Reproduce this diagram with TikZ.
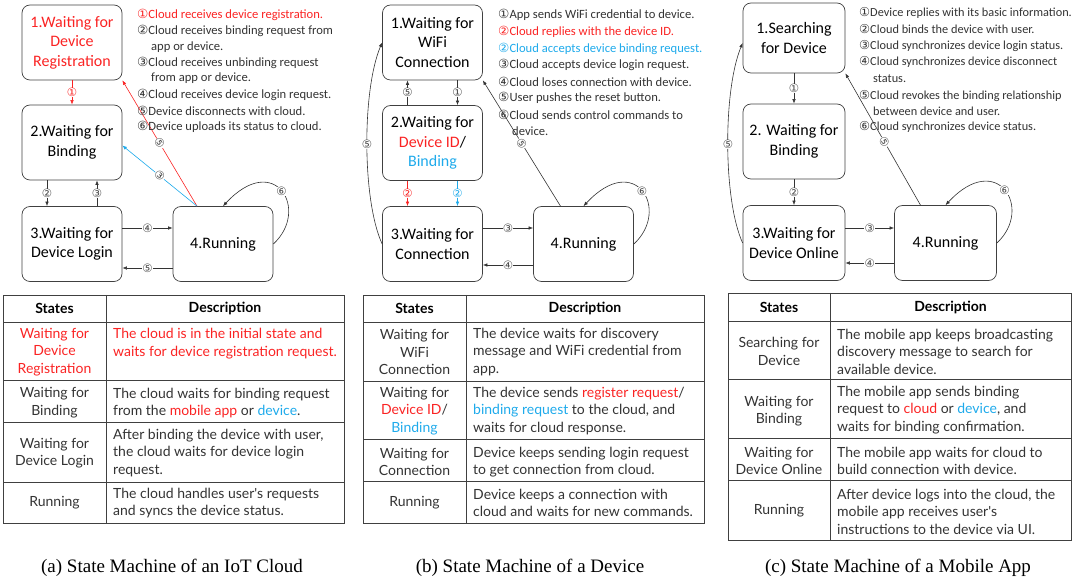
\documentclass[tikz,border=0pt]{standalone}
\usepackage{fontspec}
\setmainfont{Liberation Serif}
\newfontfamily\boxfont{Carlito}
\newfontfamily\tabfont{Lato}
\newfontfamily\symfont{DejaVu Sans}
\usepackage{tikz}
\usetikzlibrary{arrows.meta,calc}
\definecolor{redc}{RGB}{250,35,35}
\definecolor{bluec}{RGB}{30,170,235}
\newcommand{\cn}[1]{{\symfont\ifcase#1\or ①\or ②\or ③\or ④\or ⑤\or ⑥\fi}}

\begin{document}
\begin{tikzpicture}[x=1pt,y=-1pt,
  stbox/.style={draw=black!75, line width=0.7pt, rounded corners=8pt, minimum width=100pt, minimum height=75pt, align=center, font=\boxfont\fontsize{16}{19.5}\selectfont},
  arr/.style={draw=black!80, line width=0.6pt, -{Latex[length=4.5pt,width=3.5pt]}},
  lbl/.style={fill=white, inner sep=0.3pt, text=black!70, font=\symfont\fontsize{11.5}{11.5}\selectfont},
  leg/.style={anchor=west, inner sep=0pt, text=black!80, font=\boxfont\fontsize{12.6}{14}\selectfont},
  tline/.style={draw=black!75, line width=0.7pt},
  cell/.style={inner sep=0pt, align=center, text=black!80, font=\tabfont\fontsize{14}{17.5}\selectfont},
  desc/.style={cell, anchor=west, align=left},
  head/.style={cell, text=black, font=\tabfont\bfseries\fontsize{14}{17.5}\selectfont},
  captxt/.style={font=\fontsize{19}{22}\selectfont}]
\useasboundingbox (0,0) rectangle (1080,585);

% (a) IoT cloud
\node[stbox, text=redc] (a1) at (72,42.5) {1.Waiting for\\Device\\Registration};
\node[stbox] (a2) at (72,142.5) {2.Waiting for\\Binding};
\node[stbox] (a3) at (72,244) {3.Waiting for\\Device Login};
\node[stbox] (a4) at (223,244) {4.Running};

\draw[arr, draw=redc] (a1) -- node[lbl, text=redc]{①} (a2);
\draw[arr] ([xshift=-25pt]a2.south) -- node[lbl]{②} ([xshift=-25pt]a3.north);
\draw[arr] ([xshift=25pt]a3.north) -- node[lbl]{③} ([xshift=25pt]a2.south);
\draw[arr] ([yshift=16pt]a3.east) -- node[lbl]{④} ([yshift=16pt]a4.west);
\draw[arr] ([yshift=-24pt]a4.west) -- node[lbl]{⑤} ([yshift=-24pt]a3.east);
\draw[arr] (a4.east) .. controls +(37,-34) and +(52,-56) .. (a4.north) node[lbl, pos=0.5]{⑥};
\draw[arr, draw=redc] ([xshift=-26pt]a4.north) -- node[lbl, sloped]{⑤} (a1.south east);
\draw[arr, draw=bluec] ([xshift=-26pt]a4.north) -- node[lbl, sloped]{③} ([yshift=-3pt]a2.east);

\foreach \y/\t in {15/{\color{redc}\cn1Cloud receives device registration.},
  31/{\cn2Cloud receives binding request from}, 47/{\hspace*{14pt}app or device.},
  63/{\cn3Cloud receives unbinding request}, 78/{\hspace*{14pt}from app or device.},
  95/{\cn4Cloud receives device login request.}, 111/{\cn5Device disconnects with cloud.},
  127/{\cn6Device uploads its status to cloud.}}{
\node[leg] (la-\y) at (137,\y) {\t};}

% (b) device
\node[stbox] (b1) at (432.5,42.5) {1.Waiting for\\WiFi\\Connection};
\node[stbox] (b2) at (432.5,143) {2.Waiting for\\\textcolor{redc}{Device ID}/\\\textcolor{bluec}{Binding}};
\node[stbox] (b3) at (432.5,244) {3.Waiting for\\Connection};
\node[stbox] (b4) at (583.5,244) {4.Running};

\draw[arr] ([xshift=-25pt]b2.north) -- node[lbl]{⑤} ([xshift=-25pt]b1.south);
\draw[arr] ([xshift=25pt]b1.south) -- node[lbl]{①} ([xshift=25pt]b2.north);
\draw[arr, draw=redc] ([xshift=-25pt]b2.south) -- node[lbl, text=redc]{②} ([xshift=-25pt]b3.north);
\draw[arr, draw=bluec] ([xshift=25pt]b2.south) -- node[lbl, text=bluec]{②} ([xshift=25pt]b3.north);
\draw[arr] ([yshift=16pt]b3.east) -- node[lbl]{③} ([yshift=16pt]b4.west);
\draw[arr] ([yshift=-21pt]b4.west) -- node[lbl]{④} ([yshift=-21pt]b3.east);
\draw[arr] (b4.east) .. controls +(37,-34) and +(52,-56) .. (b4.north) node[lbl, pos=0.5]{⑥};
\draw[arr] ([xshift=-23pt]b4.north) -- node[lbl, sloped]{⑤} (b1.south east);
\draw[arr] (b3.west) .. controls (362,200) and (362,90) .. (b1.west) node[lbl, pos=0.5]{⑤};

\foreach \y/\t in {15/{\cn1App sends WiFi credential to device.},
  32/{\color{redc}\cn2Cloud replies with the device ID.},
  49/{\color{bluec}\cn2Cloud accepts device binding request.},
  65/{\cn3Cloud accepts device login request.}, 82/{\cn4Cloud loses connection with device.},
  98/{\cn5User pushes the reset button.}, 115/{\cn6Cloud sends control commands to},
  131/{\hspace*{14pt}device.}}{
\node[leg] (lb-\y) at (498,\y) {\t};}

% (c) mobile app
\node[stbox, minimum width=102pt, minimum height=70pt] (c1) at (794,38) {1.Searching\\for Device};
\node[stbox, minimum width=102pt] (c2) at (794,141.5) {2. Waiting for\\Binding};
\node[stbox, minimum width=102pt] (c3) at (794,243) {3.Waiting for\\Device Online};
\node[stbox, minimum width=102pt] (c4) at (945.5,243) {4.Running};

\draw[arr] (c1) -- node[lbl]{①} (c2);
\draw[arr] (c2) -- node[lbl]{②} (c3);
\draw[arr] ([yshift=15pt]c3.east) -- node[lbl]{③} ([yshift=15pt]c4.west);
\draw[arr] ([yshift=-20pt]c4.west) -- node[lbl]{④} ([yshift=-20pt]c3.east);
\draw[arr] (c4.east) .. controls +(37,-34) and +(52,-56) .. (c4.north) node[lbl, pos=0.5]{⑥};
\draw[arr] ([xshift=-25pt]c4.north) -- node[lbl, sloped, pos=0.48]{⑤} (c1.south east);
\draw[arr] (c3.west) .. controls (723,200) and (723,90) .. ([yshift=-5pt]c1.west) node[lbl, pos=0.5]{⑤};

\foreach \y/\t in {13/{\cn1Device replies with its basic information.},
  29/{\cn2Cloud binds the device with user.}, 46/{\cn3Cloud synchronizes device login status.},
  62/{\cn4Cloud synchronizes device disconnect}, 79/{\hspace*{14pt}status.},
  96/{\cn5Cloud revokes the binding relationship}, 111/{\hspace*{14pt}between device and user.},
  127/{\cn6Cloud synchronizes device status.}}{
\node[leg, font=\boxfont\fontsize{12.3}{14}\selectfont] (lc-\y) at (859,\y) {\t};}

% tables
\draw[tline] (3,295) rectangle (344,523);
\foreach \y in {322,380,422,482} \draw[tline] (3,\y) -- (344,\y);
\draw[tline] (106,295) -- (106,523);
\node[head] (ta-h1) at (54.5,308.5) {States};
\node[head] (ta-h2) at (225,308.5) {Description};
\node[cell, text=redc] (ta-s1) at (54.5,352) {Waiting for\\Device\\Registration};
\node[desc, text=redc] (ta-d1) at (113,343.5) {The cloud is in the initial state and\\waits for device registration request.};
\node[cell] (ta-s2) at (54.5,402.5) {Waiting for\\Binding};
\node[desc] (ta-d2) at (113,403) {The cloud waits for binding request\\from the \textcolor{redc}{mobile app} or \textcolor{bluec}{device}.};
\node[cell] (ta-s3) at (54.5,453) {Waiting for\\Device Login};
\node[desc] (ta-d3) at (113,453) {After binding the device with user,\\the cloud waits for device login\\request.};
\node[cell] (ta-s4) at (54.5,503) {Running};
\node[desc] (ta-d4) at (113,503) {The cloud handles user's requests\\and syncs the device status.};

\draw[tline] (363,295) rectangle (704,523);
\foreach \y in {322,381,439,481} \draw[tline] (363,\y) -- (704,\y);
\draw[tline] (466,295) -- (466,523);
\node[head] (tb-h1) at (414.5,308.5) {States};
\node[head] (tb-h2) at (585,308.5) {Description};
\node[cell] (tb-s1) at (414.5,352) {Waiting for\\WiFi\\Connection};
\node[desc] (tb-d1) at (473,352) {The device waits for discovery\\message and WiFi credential from\\app.};
\node[cell] (tb-s2) at (414.5,411) {Waiting for\\\textcolor{redc}{Device ID}/\\\textcolor{bluec}{Binding}};
\node[desc] (tb-d2) at (473,411) {The device sends \textcolor{redc}{register request}/\\\textcolor{bluec}{binding request} to the cloud, and\\waits for cloud response.};
\node[cell] (tb-s3) at (414.5,462) {Waiting for\\Connection};
\node[desc] (tb-d3) at (473,462) {Device keeps sending login request\\to get connection from cloud.};
\node[cell] (tb-s4) at (414.5,503) {Running};
\node[desc] (tb-d4) at (473,503) {Device keeps a connection with\\cloud and waits for new commands.};

\draw[tline] (728,293) rectangle (1071,540);
\foreach \y in {321,379,438,480} \draw[tline] (728,\y) -- (1071,\y);
\draw[tline] (830,293) -- (830,540);
\node[head] (tc-h1) at (779,307) {States};
\node[head] (tc-h2) at (950.5,307) {Description};
\node[cell] (tc-s1) at (779,351.5) {Searching for\\Device};
\node[desc] (tc-d1) at (837,351.5) {The mobile app keeps broadcasting\\discovery message to search for\\available device.};
\node[cell] (tc-s2) at (779,411) {Waiting for\\Binding};
\node[desc] (tc-d2) at (837,410) {The mobile app sends binding\\request to \textcolor{redc}{cloud} or \textcolor{bluec}{device}, and\\waits for binding confirmation.};
\node[cell] (tc-s3) at (779,461) {Waiting for\\Device Online};
\node[desc] (tc-d3) at (837,461) {The mobile app waits for cloud to\\build connection with device.};
\node[cell] (tc-s4) at (779,511) {Running};
\node[desc] (tc-d4) at (837,511.5) {After device logs into the cloud, the\\mobile app receives user's\\instructions to the device via UI.};

\node[captxt] (cap-a) at (172,568) {(a) State Machine of an IoT Cloud};
\node[captxt] (cap-b) at (530,568) {(b) State Machine of a Device};
\node[captxt] (cap-c) at (898,568) {(c) State Machine of a Mobile App};

\end{tikzpicture}
\end{document}
